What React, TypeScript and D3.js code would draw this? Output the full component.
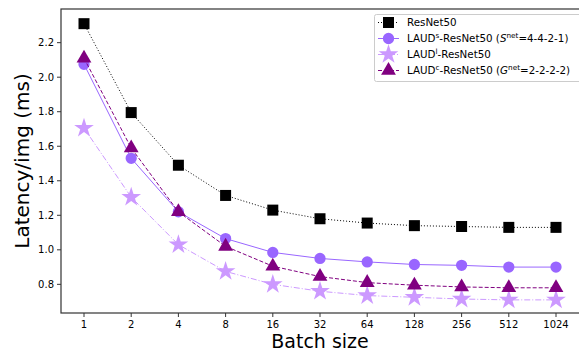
import { useRef, useEffect } from 'react'
import * as d3 from 'd3'

const BATCH = ['1', '2', '4', '8', '16', '32', '64', '128', '256', '512', '1024']
const RESNET = [2.31, 1.795, 1.49, 1.315, 1.23, 1.18, 1.155, 1.14, 1.135, 1.13, 1.13]
const LAUD_S = [2.075, 1.53, 1.22, 1.065, 0.985, 0.95, 0.93, 0.915, 0.91, 0.9, 0.9]
const LAUD_L = [1.705, 1.305, 1.03, 0.875, 0.8, 0.76, 0.735, 0.725, 0.715, 0.71, 0.71]
const LAUD_C = [2.11, 1.59, 1.22, 1.02, 0.905, 0.845, 0.81, 0.795, 0.785, 0.78, 0.78]
const Y_TICKS = [0.8, 1.0, 1.2, 1.4, 1.6, 1.8, 2.0, 2.2]

const FONT = 'DejaVu Sans, sans-serif'

const SERIES = [
  { key: 'resnet', values: RESNET, color: '#000000', dash: '1,2', symbol: d3.symbolSquare, size: 121 },
  { key: 'lauds', values: LAUD_S, color: '#9966ff', dash: null, symbol: d3.symbolCircle, size: 100 },
  { key: 'laudl', values: LAUD_L, color: '#cc99ff', dash: '6,2,1,2', symbol: d3.symbolStar, size: 120 },
  { key: 'laudc', values: LAUD_C, color: '#800080', dash: '4,2', symbol: d3.symbolTriangle, size: 95 },
]

export default function App() {
  const svgRef = useRef<SVGSVGElement | null>(null)

  useEffect(() => {
    document.body.style.margin = '0'
    const el = svgRef.current
    if (!el) return
    const W = 579
    const H = 352
    const left = 61, right = 579, top = 9, bottom = 313

    d3.select(el).selectAll('*').remove()
    const svg = d3.select(el).attr('width', W).attr('height', H)

    const x = d3.scalePoint<string>().domain(BATCH).range([84, 556])
    const y = d3.scaleLinear().domain([0.634, 2.395]).range([bottom, top])

    // ticks
    const xt = svg.append('g')
    BATCH.forEach(b => {
      xt.append('line').attr('x1', x(b)!).attr('x2', x(b)!).attr('y1', bottom).attr('y2', bottom + 4)
        .attr('stroke', '#000').attr('stroke-width', 0.8)
      xt.append('text').attr('x', x(b)!).attr('y', bottom + 14.5).attr('text-anchor', 'middle')
        .attr('font-size', 10).attr('font-family', FONT).attr('fill', '#000').text(b)
    })
    const yt = svg.append('g')
    Y_TICKS.forEach(v => {
      yt.append('line').attr('x1', left - 4).attr('x2', left).attr('y1', y(v)).attr('y2', y(v))
        .attr('stroke', '#000').attr('stroke-width', 0.8)
      yt.append('text').attr('x', left - 7).attr('y', y(v)).attr('dy', '0.35em').attr('text-anchor', 'end')
        .attr('font-size', 10).attr('font-family', FONT).attr('fill', '#000').text(d3.format('.1f')(v))
    })

    // series
    const line = d3.line<number>().x((_, i) => x(BATCH[i])!).y(d => y(d))
    SERIES.forEach(s => {
      svg.append('path').attr('d', line(s.values)).attr('fill', 'none')
        .attr('stroke', s.color).attr('stroke-width', 1)
        .attr('stroke-dasharray', s.dash)
      const sym = d3.symbol().type(s.symbol).size(s.size)
      svg.append('g').selectAll('path').data(s.values).join('path')
        .attr('d', sym as any)
        .attr('transform', (d, i) => `translate(${x(BATCH[i])},${y(d)})`)
        .attr('fill', s.color)
    })

    // spines
    svg.append('rect').attr('x', left).attr('y', top).attr('width', right - left + 2).attr('height', bottom - top)
      .attr('fill', 'none').attr('stroke', '#333').attr('stroke-width', 1.2)

    // axis labels
    svg.append('text').attr('x', 320).attr('y', 347.5).attr('text-anchor', 'middle')
      .attr('font-size', 19).attr('font-family', FONT).text('Batch size')
    svg.append('text').attr('transform', 'translate(29,161) rotate(-90)').attr('text-anchor', 'middle')
      .attr('font-size', 20).attr('font-family', FONT).text('Latency/img (ms)')

    // legend
    const lg = svg.append('g')
    lg.append('rect').attr('x', 374.5).attr('y', 14.5).attr('width', 210).attr('height', 67).attr('rx', 2)
      .attr('fill', '#fff').attr('fill-opacity', 0.8).attr('stroke', '#ccc').attr('stroke-width', 1)
    const labels: [string, string, string, string][] = [
      ['ResNet50', '', '', ''],
      ['LAUD', 's', '-ResNet50 (', 'S'],
      ['LAUD', 'l', '-ResNet50', ''],
      ['LAUD', 'c', '-ResNet50 (', 'G'],
    ]
    const tails = ['', '=4-4-2-1)', '', '=2-2-2-2)']
    SERIES.forEach((s, i) => {
      const ly = 22.5 + i * 16
      lg.append('line').attr('x1', 378).attr('x2', 399).attr('y1', ly).attr('y2', ly)
        .attr('stroke', s.color).attr('stroke-width', 1).attr('stroke-dasharray', s.dash)
      lg.append('path').attr('d', d3.symbol().type(s.symbol).size(s.size)() as string)
        .attr('transform', `translate(388.5,${ly})`).attr('fill', s.color)
      const t = lg.append('text').attr('x', 407).attr('y', ly).attr('dy', '0.35em')
        .attr('font-size', 10.3).attr('font-family', FONT).attr('fill', '#000')
      const [a, sup, b, it] = labels[i]
      t.append('tspan').text(a)
      if (sup) {
        t.append('tspan').attr('font-size', 7.3).attr('dy', -4).text(sup)
        t.append('tspan').attr('dy', 4).text(b)
      }
      if (it) {
        t.append('tspan').attr('font-style', 'italic').text(it)
        t.append('tspan').attr('font-size', 7.3).attr('dy', -4).text('net')
        t.append('tspan').attr('dy', 4).text(tails[i])
      }
    })
  }, [])

  return <svg ref={svgRef} style={{ display: 'block' }} />
}
